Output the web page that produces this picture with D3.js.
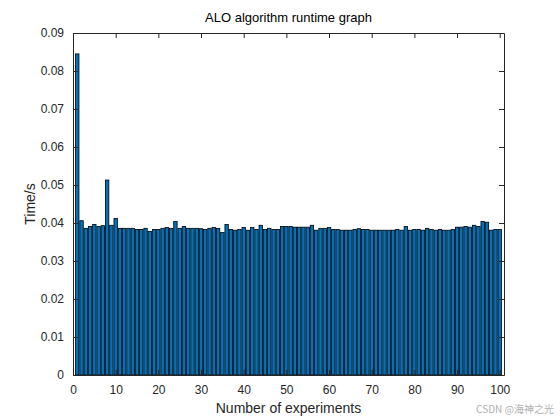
<!DOCTYPE html>
<html>
<head>
<meta charset="utf-8">
<script src="https://cdn.jsdelivr.net/npm/d3@7"></script>
<style>
  html, body { margin: 0; padding: 0; background: #fff; }
  text { font-family: "Liberation Sans", Arial, sans-serif; }
</style>
</head>
<body>
<svg id="chart"></svg>
<script>
// runtime of each experiment (seconds)
const runs = d3.range(1, 101);
const times = [
  0.0845, 0.0406, 0.0386, 0.0391, 0.0396, 0.0391, 0.0393, 0.0513, 0.0394, 0.0412,
  0.0386, 0.0386, 0.0386, 0.0386, 0.0383, 0.0383, 0.0386, 0.0378, 0.0383, 0.0383,
  0.0386, 0.0388, 0.0386, 0.0404, 0.0386, 0.0391, 0.0386, 0.0386, 0.0386, 0.0385,
  0.0383, 0.0386, 0.0388, 0.0386, 0.0375, 0.0396, 0.0383, 0.0381, 0.0383, 0.0388,
  0.0381, 0.0388, 0.0383, 0.0394, 0.0383, 0.0386, 0.0383, 0.0383, 0.0391, 0.0391,
  0.0391, 0.0389, 0.0389, 0.0389, 0.0389, 0.0394, 0.0381, 0.0386, 0.0386, 0.0388,
  0.0383, 0.0383, 0.0381, 0.0381, 0.0381, 0.0383, 0.0385, 0.0383, 0.0383, 0.0381,
  0.0381, 0.0381, 0.0381, 0.0381, 0.0381, 0.0383, 0.0381, 0.0391, 0.0381, 0.0383,
  0.0383, 0.0381, 0.0386, 0.0383, 0.0381, 0.0383, 0.0381, 0.0381, 0.0383, 0.0389,
  0.0389, 0.0391, 0.0389, 0.0394, 0.0391, 0.0404, 0.0402, 0.0381, 0.0383, 0.0383
];
const xTicks = d3.range(0, 101, 10);
const yTicks = d3.range(0, 0.0901, 0.01);

const W = 560, H = 420;
const m = { left: 73, right: 56, top: 33, bottom: 45 };
const iw = W - m.left - m.right, ih = H - m.top - m.bottom;

const svg = d3.select('#chart').attr('width', W).attr('height', H);
const g = svg.append('g').attr('transform', `translate(${m.left},${m.top})`);

const x = d3.scaleLinear().domain([0, 101]).range([0, iw]);
const y = d3.scaleLinear().domain([0, 0.09]).range([ih, 0]);
const bw = x(0.8) - x(0);

// bars
g.selectAll('rect.bar')
  .data(runs)
  .enter()
  .append('rect')
  .attr('class', 'bar')
  .attr('x', d => x(d) - bw / 2)
  .attr('width', bw)
  .attr('y', (d, i) => y(times[i]))
  .attr('height', (d, i) => y(0) - y(times[i]))
  .attr('fill', '#0072BD')
  .attr('stroke', '#000')
  .attr('stroke-width', 0.8);

// axes (ticks inward, mirrored on all four sides)
const tk = 5;
const fmtY = d => d === 0 ? '0' : d3.format('.2f')(d);
const axStyle = sel => {
  sel.select('.domain').attr('stroke', '#262626');
  sel.selectAll('.tick line').attr('stroke', '#262626');
  sel.selectAll('.tick text').attr('fill', '#262626').style('font-size', '12px');
};

g.append('g').attr('transform', `translate(0,${ih})`)
  .call(d3.axisBottom(x).tickValues(xTicks).tickSizeInner(-tk).tickSizeOuter(0).tickPadding(10))
  .call(axStyle);
g.append('g')
  .call(d3.axisTop(x).tickValues(xTicks).tickSizeInner(-tk).tickSizeOuter(0).tickFormat(''))
  .call(axStyle);
g.append('g')
  .call(d3.axisLeft(y).tickValues(yTicks).tickFormat(fmtY).tickSizeInner(-tk).tickSizeOuter(0).tickPadding(9))
  .call(axStyle);
g.append('g').attr('transform', `translate(${iw},0)`)
  .call(d3.axisRight(y).tickValues(yTicks).tickSizeInner(-tk).tickSizeOuter(0).tickFormat(''))
  .call(axStyle);

// title and labels
svg.append('text')
  .attr('x', m.left + iw / 2).attr('y', 22)
  .attr('text-anchor', 'middle')
  .style('font-size', '13px').attr('fill', '#000')
  .text('ALO algorithm runtime graph');

svg.append('text')
  .attr('x', m.left + iw / 2).attr('y', 413)
  .attr('text-anchor', 'middle')
  .style('font-size', '14px').attr('fill', '#262626')
  .text('Number of experiments');

svg.append('text')
  .attr('transform', `translate(35,${m.top + ih / 2}) rotate(-90)`)
  .attr('text-anchor', 'middle')
  .style('font-size', '14px').attr('fill', '#262626')
  .text('Time/s');

// watermark
svg.append('text')
  .attr('x', 554).attr('y', 413)
  .attr('text-anchor', 'end')
  .style('font-size', '10px').attr('fill', '#b0b0b0')
  .style('font-family', '"Noto Sans CJK SC", "Liberation Sans", sans-serif')
  .text('CSDN @海神之光');
</script>
</body>
</html>
